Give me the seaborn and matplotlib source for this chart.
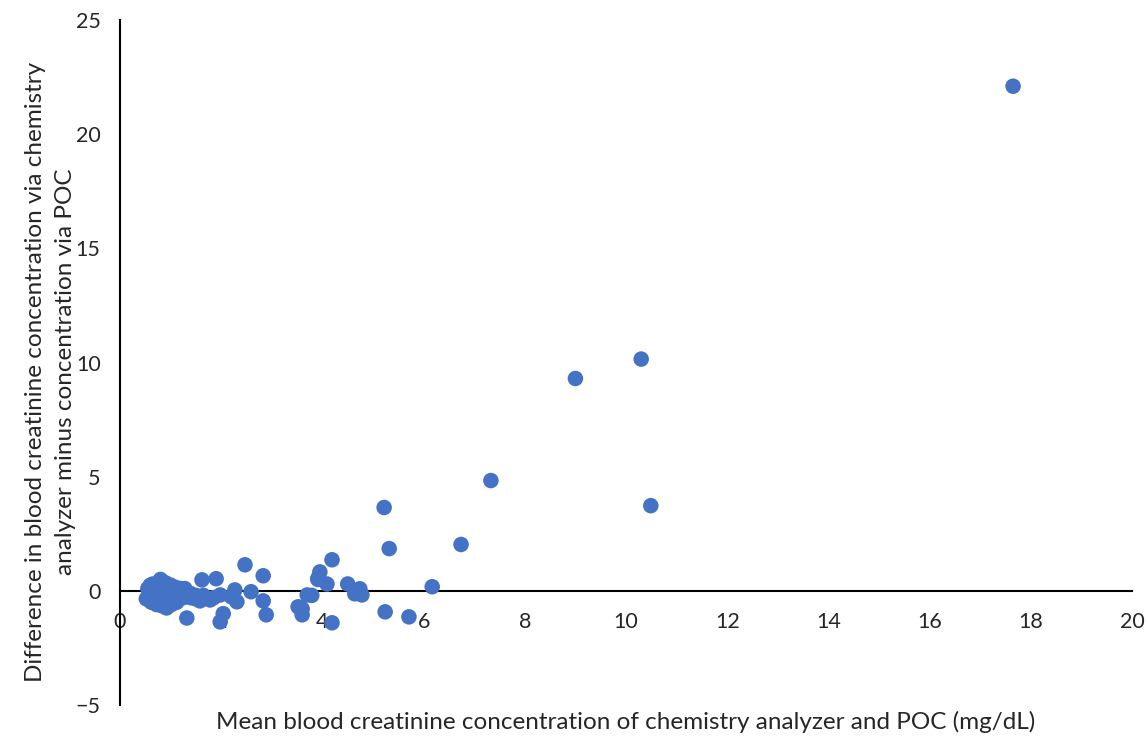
import matplotlib
matplotlib.use('Agg')
import matplotlib.pyplot as plt
import seaborn as sns
import pandas as pd

# mean of the two methods (mg/dL)
mean_conc = [17.65, 10.3, 9.0, 7.33, 10.49, 5.22, 5.32, 6.74, 6.17, 5.24, 5.71,
             4.19, 3.95, 3.91, 4.09, 4.19, 4.5, 4.74, 4.64, 4.78, 3.7, 3.79,
             3.52, 3.6, 3.6, 3.91,
             2.47, 2.83, 2.59, 2.83, 2.89, 2.27, 2.31, 2.2, 1.98, 2.04, 1.98,
             1.62, 1.9, 1.78, 1.58, 1.32, 1.45, 1.5, 1.85,
             0.52, 0.55, 0.58, 0.6, 0.62, 0.65, 0.68, 0.7, 0.72, 0.75, 0.78,
             0.8, 0.82, 0.85, 0.88, 0.9, 0.92, 0.95, 0.98, 1.0, 1.02, 1.05,
             1.08, 1.1, 1.12, 1.15, 1.2, 1.25, 1.3, 1.35, 0.7, 0.8, 0.9,
             1.0, 1.1, 0.6, 0.75, 0.95, 1.18, 1.4, 1.28, 1.38, 1.5, 1.65]
# chemistry analyzer minus POC (mg/dL)
diff_conc = [22.1, 10.15, 9.3, 4.83, 3.73, 3.65, 1.85, 2.03, 0.18, -0.92, -1.14,
             1.36, 0.83, 0.5, 0.3, -1.4, 0.3, 0.09, -0.13, -0.18, -0.18, -0.2,
             -0.7, -0.79, -1.05, 0.55,
             1.14, 0.66, -0.04, -0.44, -1.05, 0.04, -0.48, -0.26, -0.18, -1.0, -1.36,
             0.48, 0.53, -0.4, -0.44, -1.19, -0.3, -0.2, -0.3,
             -0.35, 0.1, -0.2, 0.25, -0.5, 0.3, -0.1, 0.2, -0.6, 0.1, -0.3,
             0.5, -0.65, 0.2, -0.1, 0.35, -0.75, 0.0, -0.4, 0.25, -0.6, 0.1,
             -0.3, 0.15, -0.5, -0.2, 0.1, -0.3, -0.1, -0.25, -0.45, -0.2, -0.5,
             -0.1, -0.35, -0.15, 0.0, 0.05, -0.15, -0.3, 0.1, -0.1, -0.35, -0.2]

df = pd.DataFrame({'mean': mean_conc, 'diff': diff_conc})

sns.set_style('white')
plt.rcParams['font.family'] = ['Lato', 'DejaVu Sans']

fig = plt.figure(figsize=(11.48, 7.39), dpi=100)
ax = fig.add_axes([120/1148, 1-705/739, 1012/1148, 685/739])

sns.scatterplot(data=df, x='mean', y='diff', ax=ax, color='#4472C4',
                s=125, edgecolor='none', linewidth=0, zorder=3)

ax.set_xlim(0, 20)
ax.set_ylim(-5, 25)
ax.set_xticks(range(0, 21, 2))
ax.set_yticks(range(-5, 26, 5))

ax.spines['right'].set_visible(False)
ax.spines['top'].set_visible(False)
ax.spines['bottom'].set_position(('data', 0))
for sp in ['left', 'bottom']:
    ax.spines[sp].set_color('black')
    ax.spines[sp].set_linewidth(1.5)
    ax.spines[sp].set_zorder(2)

ax.tick_params(axis='x', length=0, pad=15, labelsize=15.5)
ax.tick_params(axis='y', length=0, pad=14, labelsize=15.5)

ax.set_xlabel('Mean blood creatinine concentration of chemistry analyzer and POC (mg/dL)',
              fontsize=17.5)
ax.set_ylabel('Difference in blood creatinine concentration via chemistry\n'
              'analyzer minus concentration via POC', fontsize=17.5, linespacing=1.55)
ax.xaxis.set_label_coords(0.5, -0.008)
ax.yaxis.set_label_coords(-0.043, 0.486)

fig.savefig('out.png', dpi=100)
